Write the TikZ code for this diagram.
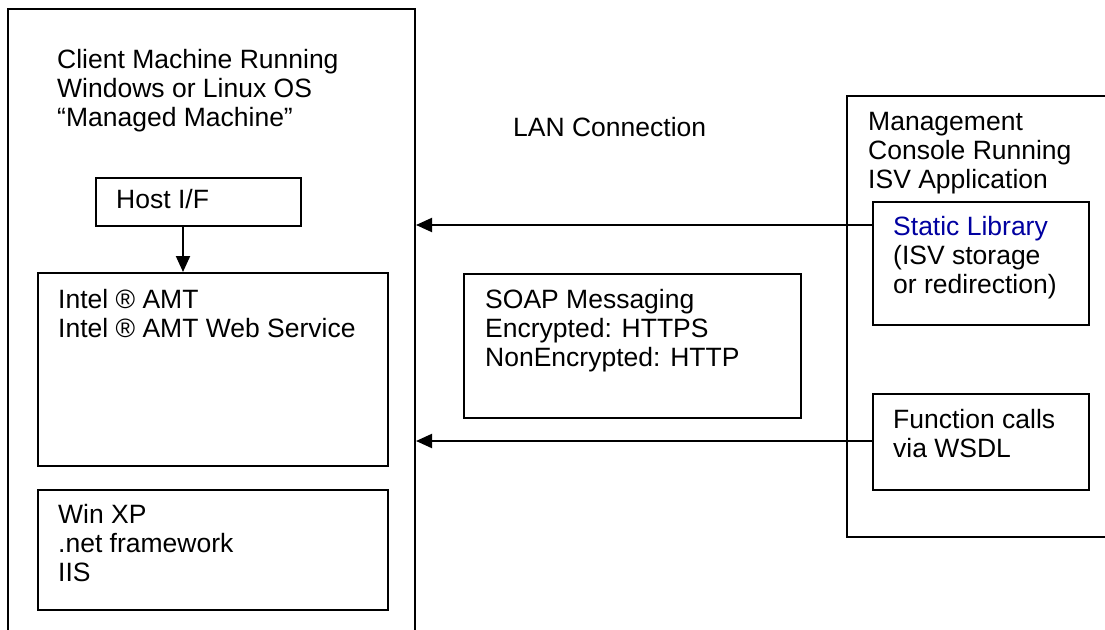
\documentclass[tikz,border=0pt]{standalone}
\usepackage{fontspec}
\setmainfont{Liberation Sans}
\usetikzlibrary{arrows.meta}
\definecolor{libblue}{RGB}{0,0,160}
\tikzset{
  box/.style={draw, line width=2pt, rectangle, inner sep=0pt, anchor=north west},
  txt/.style={inner sep=0pt, anchor=north west, align=left, font=\fontsize{26.5}{29}\selectfont},
  conn/.style={line width=2pt, -{Triangle[length=16pt,width=14pt]}},
  frame/.style={line width=2pt}
}
\begin{document}
\begin{tikzpicture}[x=1pt,y=-1pt]
\useasboundingbox (0,0) rectangle (1105,629);
% client machine frame (open at bottom)
\draw[frame] (8,640) -- (8,9) -- (415,9) -- (415,640);
\coordinate (cl1) at (416,225);
\coordinate (cl2) at (416,441);
\node[txt] (cltxt) at (57,49) {Client Machine Running\\Windows or Linux OS\\“Managed Machine”};
% host I/F
\node[box, minimum width=205pt, minimum height=48pt] (host) at (95,177) {};
\node[txt] (hosttxt) at (116,189) {Host I/F};
% AMT
\node[box, minimum width=350pt, minimum height=193pt] (amt) at (37,272) {};
\node[txt] (amttxt) at (58,289) {Intel ® AMT\\Intel ® AMT Web Service};
% Win XP
\node[box, minimum width=350pt, minimum height=120pt] (win) at (37,489) {};
\node[txt] (wintxt) at (58,504) {Win XP\\.net framework\\IIS};
\draw[conn] (host.south -| 183,0) -- (amt.north -| 183,0);
% LAN
\node[txt] (lan) at (513,117) {LAN Connection};
% SOAP
\node[box, minimum width=337pt, minimum height=144pt] (soap) at (463,273) {};
\node[txt] (soaptxt) at (485,289) {SOAP Messaging\\Encrypted: HTTPS\\NonEncrypted: HTTP};
% management console frame (open at right)
\draw[frame] (1115,96) -- (847,96) -- (847,537) -- (1115,537);
\node[txt] (mgtxt) at (868,112) {Management\\Console Running\\ISV Application};
\node[box, minimum width=216pt, minimum height=123pt] (lib) at (872,201) {};
\node[txt] (libtxt) at (893,216) {\textcolor{libblue}{Static Library}\\(ISV storage\\or redirection)};
\node[box, minimum width=216pt, minimum height=96pt] (func) at (872,393) {};
\node[txt] (functxt) at (893,409) {Function calls\\via WSDL};
% connectors
\draw[conn] (lib.west |- cl1) -- (cl1);
\draw[conn] (func.west |- cl2) -- (cl2);
\end{tikzpicture}
\end{document}
